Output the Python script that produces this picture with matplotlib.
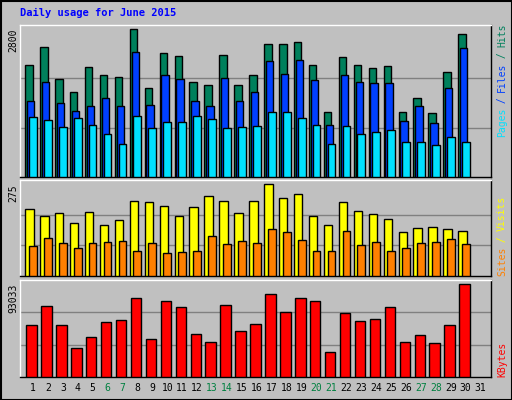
import matplotlib.pyplot as plt
from matplotlib.patches import Rectangle

days = list(range(1, 32))
weekend = [6, 7, 13, 14, 20, 21, 27, 28]

hits = [2113, 2456, 1865, 1616, 2075, 1941, 1903, 2800, 1693, 2342, 2285, 1807, 1750, 2304, 1750,
        1941, 2514, 2514, 2552, 2113, 1235, 2266, 2113, 2056, 2094, 1235, 1502, 1216, 1998, 2705]
files = [1445, 1807, 1406, 1254, 1349, 1502, 1349, 2361, 1368, 1941, 1865, 1445, 1349, 1884, 1445,
         1616, 2189, 1960, 2208, 1846, 986, 1941, 1807, 1788, 1788, 1063, 1349, 1025, 1693, 2437]
pages = [1139, 1082, 948, 1120, 986, 815, 624, 1158, 929, 1044, 1044, 1158, 1101, 929, 948,
         967, 1235, 1235, 1120, 986, 624, 967, 815, 853, 891, 662, 662, 605, 757, 662]
visits = [201, 180, 189, 159, 192, 153, 168, 225, 222, 210, 180, 207, 240, 225, 189,
          225, 275, 234, 246, 180, 153, 222, 195, 186, 171, 132, 144, 147, 141, 135]
sites = [90, 114, 99, 84, 99, 102, 105, 75, 99, 69, 72, 75, 120, 96, 105,
         99, 141, 132, 108, 75, 75, 135, 93, 102, 75, 84, 99, 102, 111, 96]
kbytes = [52100, 71540, 52100, 28650, 39910, 55170, 57210, 79730, 37860, 76660, 70520, 42980, 34790,
          72570, 46050, 53120, 83820, 65400, 79730, 76660, 25580, 64380, 56190, 58240, 70520, 34790,
          41960, 33770, 52100, 93033]

BG = '#c0c0c0'
W, H = 512, 400
fig = plt.figure(figsize=(5.12, 4), dpi=100)
fig.patch.set_facecolor(BG)
fig.patches.append(Rectangle((0.5 / W, 0.5 / H), 1 - 1 / W, 1 - 1 / H, transform=fig.transFigure,
                             fill=False, edgecolor='black', lw=1.5))
mono = 'DejaVu Sans Mono'

def panel(top, bottom):
    ax = fig.add_axes([20 / W, 1 - bottom / H, 471 / W, (bottom - top) / H])
    ax.set_facecolor(BG)
    ax.set_xlim(0.13, 31.67)
    ax.set_xticks([])
    ax.set_yticks([])
    for s in ax.spines.values():
        s.set_color('black')
        s.set_linewidth(1)
    ax.spines['top'].set_color('white')
    ax.spines['left'].set_color('white')
    return ax

def bars(ax, vals, left, width, color):
    x = [d + left for d in days[:len(vals)]]
    ax.bar(x, vals, width=width, align='edge', color=color, edgecolor='black', linewidth=1, zorder=3)

def grid(ax, vals):
    for v in vals:
        ax.axhline(v, color='#808080', lw=1, zorder=1)

def side_label(y_bottom, parts, x=502):
    # parts listed bottom-to-top, drawn rotated
    cw = 5.6
    y = y_bottom
    for txt, col in parts:
        fig.text(x / W, 1 - y / H, txt, rotation=90, color=col, family=mono, fontsize=7,
                 ha='center', va='bottom')
        y -= cw * len(txt)

# top panel
ax1 = panel(24.7, 176.7)
ax1.set_ylim(0, 2887)
grid(ax1, [933, 1867])
bars(ax1, hits, -0.52, 0.50, '#00805c')
bars(ax1, files, -0.40, 0.49, '#0040ff')
bars(ax1, pages, -0.27, 0.52, '#00e0ff')

# middle panel
ax2 = panel(180, 276)
ax2.set_ylim(0, 288)
grid(ax2, [92, 183])
bars(ax2, visits, -0.52, 0.56, '#ffff00')
bars(ax2, sites, -0.27, 0.52, '#ff8000')

# bottom panel
ax3 = panel(280, 377)
ax3.set_ylim(0, 97400)
grid(ax3, [32500, 65000])
bars(ax3, kbytes, -0.45, 0.70, '#ff0000')

fig.text(20 / W, 1 - 16 / H, 'Daily usage for June 2015', color='#0000ff', family=mono,
         fontsize=7.5, fontweight='bold', ha='left', va='baseline')

for y, lab in [(29, '2800'), (184, '275'), (284, '93033')]:
    fig.text(13 / W, 1 - y / H, lab, rotation=90, family=mono, fontsize=7, ha='center', va='top')

side_label(137, [('Pages', '#00e0ff'), (' / ', '#0040ff'), ('Files', '#0040ff'),
                 (' / ', '#00805c'), ('Hits', '#00805c')])
side_label(276, [('Sites', '#ff8000'), (' / ', '#ffff00'), ('Visits', '#ffff00')])
side_label(377, [('KBytes', '#ff0000')])

for d in days:
    col = '#008040' if d in weekend else 'black'
    fig.text((33 + 14.92 * (d - 1)) / W, 1 - 388 / H, str(d), color=col, family=mono,
             fontsize=7, ha='center', va='center')

fig.savefig('out.png', dpi=100, facecolor=BG)
